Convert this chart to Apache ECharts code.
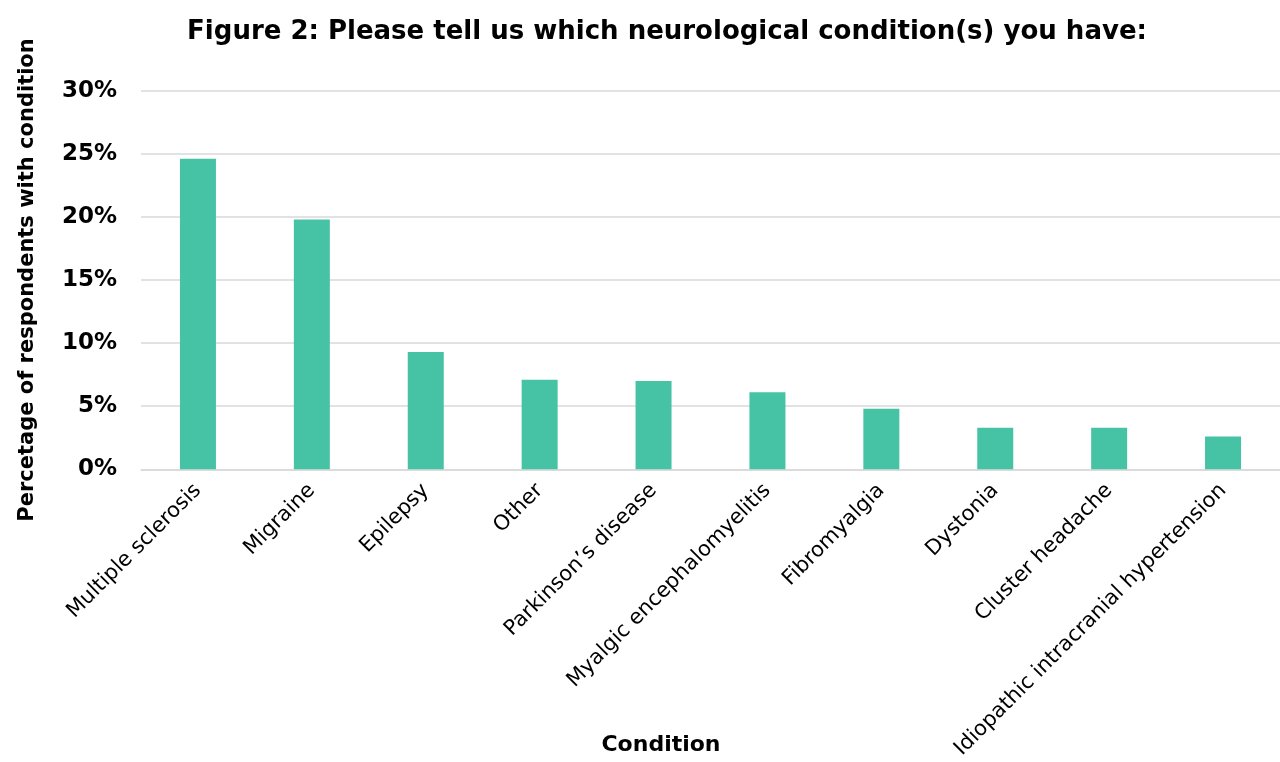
<!DOCTYPE html>
<html>
<head>
<meta charset="utf-8">
<script src="https://cdn.jsdelivr.net/npm/echarts@6/dist/echarts.min.js"></script>
<style>
html,body{margin:0;padding:0;background:#fff;}
#chart{width:1280px;height:762px;}
</style>
</head>
<body>
<div id="chart"></div>
<script>
const categories = ["Multiple sclerosis","Migraine","Epilepsy","Other","Parkinson\u2019s disease","Myalgic encephalomyelitis","Fibromyalgia","Dystonia","Cluster headache","Idiopathic intracranial hypertension"];
const values = [24.6, 19.8, 9.3, 7.1, 7.0, 6.1, 4.8, 3.3, 3.3, 2.6];
const yTicks = [0, 5, 10, 15, 20, 25, 30];

const FONT = "DejaVu Sans";
const chart = echarts.init(document.getElementById('chart'));
chart.setOption({
  animation: false,
  backgroundColor: '#ffffff',
  title: [
    {
      text: 'Figure 2: Please tell us which neurological condition(s) you have:',
      left: 662, top: 14, textAlign: 'center',
      textStyle: {fontFamily: FONT, fontWeight: 'bold', fontSize: 26, color: '#000'}
    },
    {
      text: 'Condition',
      left: 656, top: 729, textAlign: 'center',
      textStyle: {fontFamily: FONT, fontWeight: 'bold', fontSize: 22, color: '#000'}
    }
  ],
  grid: {left: 141, right: 0, top: 90.7, bottom: 292.7, containLabel: false},
  xAxis: {
    type: 'category',
    data: categories,
    axisTick: {show: false},
    axisLine: {show: true, lineStyle: {color: '#d9d9d9', width: 1.5}},
    axisLabel: {rotate: 45, interval: 0, margin: 18, fontFamily: FONT, fontSize: 21, color: '#000'}
  },
  yAxis: {
    type: 'value',
    min: yTicks[0], max: yTicks[yTicks.length - 1], interval: 5,
    name: 'Percetage of respondents with condition',
    nameLocation: 'middle', nameGap: 103, nameRotate: 90,
    nameTextStyle: {fontFamily: FONT, fontWeight: 'bold', fontSize: 21, color: '#000'},
    axisLine: {show: false}, axisTick: {show: false},
    axisLabel: {formatter: v => v + '%', margin: 24, fontFamily: FONT, fontWeight: 'bold', fontSize: 23, color: '#000'},
    splitLine: {show: true, lineStyle: {color: '#d9d9d9', width: 1.5}}
  },
  series: [{
    type: 'bar',
    data: values,
    barWidth: 36,
    itemStyle: {color: '#46C3A4'}
  }]
});
</script>
</body>
</html>
